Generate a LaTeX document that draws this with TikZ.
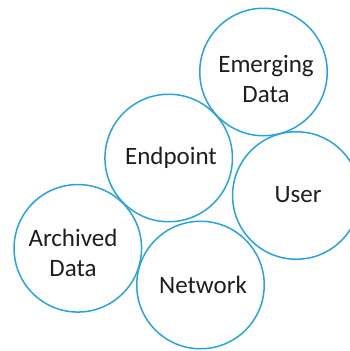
\documentclass[tikz,border=0pt]{standalone}
\usepackage{fontspec}
\setmainfont{Carlito}
\definecolor{ringblue}{RGB}{41,163,221}
\definecolor{txt}{RGB}{30,30,30}
\begin{document}
\begin{tikzpicture}[x=1pt,y=-1pt,
  ring/.style={circle,draw=ringblue,line width=1.5pt,minimum size=127.5pt,inner sep=0pt,fill=none},
  lbl/.style={font=\fontsize{25}{30}\selectfont,text=txt,align=center,inner sep=0pt}]
\useasboundingbox (0,0) rectangle (350,351);
\node[ring] (emerging) at (263.5,72) {};
\node[ring] (endpoint) at (168.7,158) {};
\node[ring] (user) at (296.3,195.5) {};
\node[ring] (archived) at (77.8,248.3) {};
\node[ring] (network) at (200.5,285) {};
\node[lbl] (temerging) at (266,79) {Emerging\\Data};
\node[lbl] (tendpoint) at (171,158) {Endpoint};
\node[lbl] (tuser) at (298,195) {User};
\node[lbl] (tarchived) at (73,253) {Archived\\Data};
\node[lbl] (tnetwork) at (203,285) {Network};
\end{tikzpicture}
\end{document}
